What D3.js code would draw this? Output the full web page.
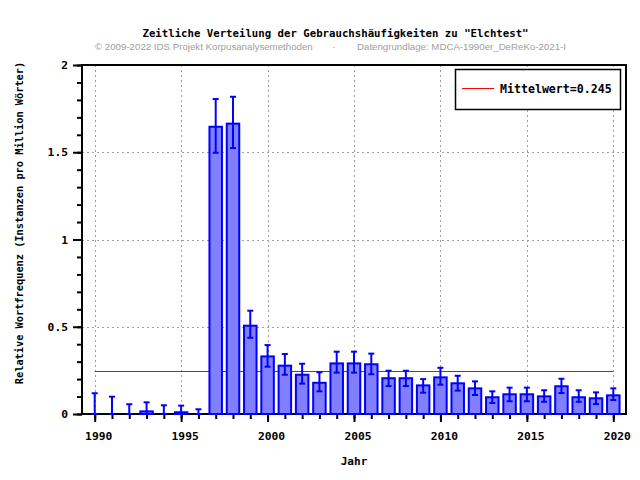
<!doctype html>
<html>
<head>
<meta charset="utf-8">
<script src="https://d3js.org/d3.v7.min.js"></script>
<style>
    body { margin: 0; background: #fff; }
    .mono { font-family: "DejaVu Sans Mono", monospace; font-weight: bold; }
</style>
</head>
<body>
<svg width="640" height="480"></svg>
<script>

// data
var years = d3.range(1990, 2021);
var values = [0, 0, 0, 0.015, 0, 0.01, 0,
    1.646, 1.664, 0.506, 0.33, 0.277, 0.225, 0.179, 0.29, 0.29, 0.285, 0.205, 0.205,
    0.164, 0.21, 0.176, 0.147, 0.096, 0.113, 0.113, 0.101, 0.159, 0.096, 0.09, 0.107];
var errHigh = [0.119, 0.099, 0.056, 0.067, 0.05, 0.048, 0.027,
    1.805, 1.818, 0.592, 0.395, 0.344, 0.288, 0.239, 0.357, 0.357, 0.346, 0.248, 0.248,
    0.2, 0.265, 0.219, 0.187, 0.13, 0.151, 0.151, 0.136, 0.202, 0.136, 0.124, 0.147];
var errLow = [0, 0, 0, 0, 0, 0, 0,
    1.497, 1.524, 0.437, 0.271, 0.225, 0.174, 0.13, 0.237, 0.237, 0.228, 0.16, 0.16,
    0.122, 0.168, 0.134, 0.109, 0.063, 0.073, 0.073, 0.07, 0.12, 0.07, 0.057, 0.08];
var mean = 0.245;
var yTicks = [0, 0.5, 1, 1.5, 2];
var xTicks = [1990, 1995, 2000, 2005, 2010, 2015, 2020];

var data = years.map(function(y, i) {
    return { year: y, v: values[i], hi: errHigh[i], lo: errLow[i] };
});

var svg = d3.select("svg");
var pLeft = 82, pRight = 626, pTop = 65, pBottom = 414;

var x = d3.scaleLinear().domain([1989.265, 2020.735]).range([pLeft, pRight]);
var y = d3.scaleLinear().domain([0, 2]).range([pBottom, pTop]);

svg.append("rect").attr("width", 640).attr("height", 480).attr("fill", "#fff");

// titles
svg.append("text").attr("class", "mono")
   .attr("x", 335.5).attr("y", 37).attr("text-anchor", "middle")
   .attr("font-size", "10.7px")
   .text("Zeitliche Verteilung der Gebrauchshäufigkeiten zu \"Elchtest\"");

var sub = svg.append("g").attr("font-family", "Liberation Sans, Arial, sans-serif")
   .attr("font-size", "9.7px").attr("fill", "#a0a0a0");
sub.append("text").attr("x", 95).attr("y", 50).text("© 2009-2022 IDS Projekt Korpusanalysemethoden");
sub.append("text").attr("x", 334).attr("y", 50).attr("text-anchor", "middle").text("·");
sub.append("text").attr("x", 357).attr("y", 50).text("Datengrundlage: MDCA-1990er_DeReKo-2021-I");

// grid
var grid = svg.append("g").attr("stroke", "#a0a0a0").attr("stroke-width", 1)
   .attr("stroke-dasharray", "2,3");
grid.selectAll(".gx").data(xTicks).enter().append("line")
   .attr("x1", function(d) { return Math.round(x(d)) + 0.5; })
   .attr("x2", function(d) { return Math.round(x(d)) + 0.5; })
   .attr("y1", pTop).attr("y2", pBottom);
grid.selectAll(".gy").data(yTicks.slice(1, 4)).enter().append("line")
   .attr("x1", pLeft).attr("x2", pRight)
   .attr("y1", function(d) { return Math.round(y(d)) + 0.5; })
   .attr("y2", function(d) { return Math.round(y(d)) + 0.5; });

// axes
var minorX = svg.append("g").attr("transform", "translate(0," + pBottom + ")")
   .call(d3.axisBottom(x).tickValues(years).tickSize(5).tickFormat(""));
var majorX = svg.append("g").attr("transform", "translate(0," + pBottom + ")")
   .call(d3.axisBottom(x).tickValues(xTicks).tickSize(8).tickPadding(10).tickFormat(d3.format("d")));
var minorY = svg.append("g").attr("transform", "translate(" + pLeft + ",0)")
   .call(d3.axisLeft(y).tickValues(d3.range(0, 2.01, 0.1)).tickSize(5).tickFormat(""));
var majorY = svg.append("g").attr("transform", "translate(" + pLeft + ",0)")
   .call(d3.axisLeft(y).tickValues(yTicks).tickSize(9).tickPadding(5)
   .tickFormat(function(d) { return d; }));

[minorX, majorX, minorY, majorY].forEach(function(a) {
    a.select(".domain").remove();
    a.selectAll(".tick line").attr("stroke", "#000").attr("stroke-width", 2);
    a.selectAll(".tick text").attr("class", "mono").attr("font-size", "11.3px").attr("fill", "#000");
});
majorX.selectAll(".tick text").attr("dx", "3.5");

// frame
svg.append("rect").attr("x", pLeft).attr("y", pTop)
   .attr("width", pRight - pLeft).attr("height", pBottom - pTop)
   .attr("fill", "none").attr("stroke", "#000").attr("stroke-width", 2);

// axis labels
svg.append("text").attr("class", "mono").attr("font-size", "11.1px")
   .attr("x", 354).attr("y", 465).attr("text-anchor", "middle").text("Jahr");
svg.append("text").attr("class", "mono").attr("font-size", "10.3px")
   .attr("transform", "translate(23,223) rotate(-90)").attr("text-anchor", "middle")
   .text("Relative Wortfrequenz (Instanzen pro Million Wörter)");

// mean line
svg.append("line")
   .attr("x1", x(1990)).attr("x2", x(2020))
   .attr("y1", Math.round(y(mean)) + 0.5).attr("y2", Math.round(y(mean)) + 0.5)
   .attr("stroke", "#ff0000").attr("stroke-width", 1);

// bars
var bw = 12.5;
svg.selectAll(".bar").data(data.filter(function(d) { return d.v > 0; }))
   .enter().append("rect").attr("class", "bar")
   .attr("x", function(d) { return x(d.year) - bw / 2; })
   .attr("y", function(d) { return y(d.v); })
   .attr("width", bw)
   .attr("height", function(d) { return y(0) - y(d.v); })
   .attr("fill", "#8080ff").attr("stroke", "#0000ff").attr("stroke-width", 2);

// error bars
var eb = svg.append("g").attr("stroke", "#0000ff").attr("stroke-width", 2);
var cap = 3;
eb.selectAll(".ev").data(data).enter().append("line")
   .attr("x1", function(d) { return x(d.year); })
   .attr("x2", function(d) { return x(d.year); })
   .attr("y1", function(d) { return y(d.lo); })
   .attr("y2", function(d) { return y(d.hi); });
eb.selectAll(".eh").data(data).enter().append("line")
   .attr("x1", function(d) { return x(d.year) - cap; })
   .attr("x2", function(d) { return x(d.year) + cap; })
   .attr("y1", function(d) { return y(d.hi); })
   .attr("y2", function(d) { return y(d.hi); });
eb.selectAll(".el").data(data).enter().append("line")
   .attr("x1", function(d) { return x(d.year) - cap; })
   .attr("x2", function(d) { return x(d.year) + cap; })
   .attr("y1", function(d) { return y(d.lo); })
   .attr("y2", function(d) { return y(d.lo); });

// legend
var lg = svg.append("g");
lg.append("rect").attr("x", 455.5).attr("y", 69.5).attr("width", 165).attr("height", 40)
   .attr("fill", "#fff").attr("stroke", "#000").attr("stroke-width", 1.5);
lg.append("line").attr("x1", 462).attr("x2", 494).attr("y1", 88.5).attr("y2", 88.5)
   .attr("stroke", "#ff0000").attr("stroke-width", 1);
lg.append("text").attr("class", "mono").attr("font-size", "11.6px")
   .attr("x", 500).attr("y", 92.5).text("Mittelwert=" + mean);

</script>
</body>
</html>
